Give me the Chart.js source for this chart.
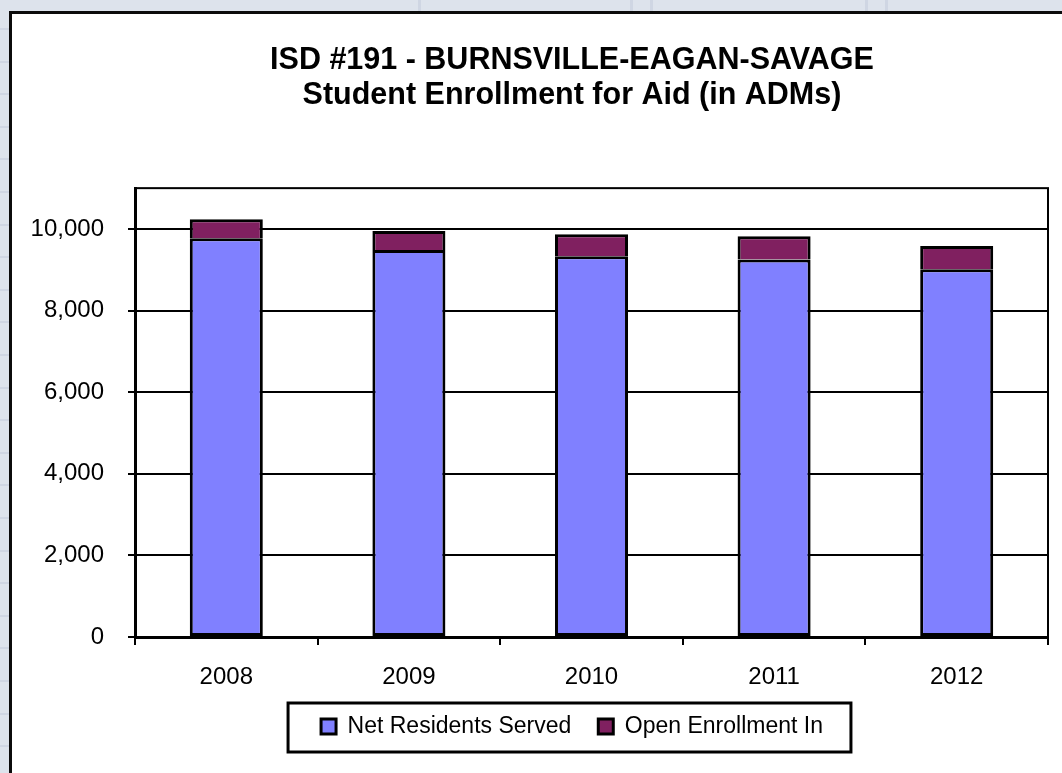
<!DOCTYPE html>
<html>
<head>
<meta charset="utf-8">
<script src="https://cdn.jsdelivr.net/npm/chart.js@4/dist/chart.umd.min.js"></script>
<style>
  html, body { margin: 0; padding: 0; width: 1062px; height: 773px; overflow: hidden; }
  body {
    background-color: #dde3ec;
    background-image:
      repeating-linear-gradient(to bottom, transparent 0px, transparent 28px, #cfd6e3 28px, #cfd6e3 30px, transparent 30px, transparent 32.6px);
    position: relative;
  }
  .vl { position: absolute; top: 0; width: 3px; height: 12px; background: #cfd6e3; }
  #box {
    position: absolute; left: 9px; top: 11px;
    width: 1200px; height: 820px;
    background: #ffffff;
    border-left: 3px solid #0b0b0b; border-top: 3px solid #0b0b0b;
  }
  #c { position: absolute; left: 0; top: 0; }
</style>
</head>
<body>
<div class="vl" style="left:418px"></div>
<div class="vl" style="left:630px"></div>
<div class="vl" style="left:650px"></div>
<div class="vl" style="left:865px"></div>
<div class="vl" style="left:885px"></div>
<div id="box"><canvas id="c" width="1120" height="759"></canvas></div>
<script>
// ---- data ----
const titleLines = ['ISD #191 - BURNSVILLE-EAGAN-SAVAGE', 'Student Enrollment for Aid (in ADMs)'];
const years = ['2008', '2009', '2010', '2011', '2012'];
const netResidentsServed = [9770, 9485, 9330, 9250, 9010];
const openEnrollmentIn = [470, 465, 540, 570, 570];
const seriesNames = ['Net Residents Served', 'Open Enrollment In'];
const yTicks = [0, 2000, 4000, 6000, 8000, 10000];
const yMin = 0, yMax = 11000;

const FONT = '"Liberation Sans", Arial, sans-serif';

const framePlugin = {
  id: 'frame',
  beforeDatasetsDraw(chart) {
    const a = chart.chartArea, ctx = chart.ctx;
    ctx.save();
    ctx.strokeStyle = '#000';
    ctx.lineWidth = 2;
    ctx.strokeRect(a.left, a.top, a.right - a.left, a.bottom - a.top);
    ctx.restore();
  }
};

const legendBoxPlugin = {
  id: 'legendBox',
  afterDraw(chart) {
    const hb = chart.legend && chart.legend.legendHitBoxes;
    if (!hb || !hb.length) return;
    const first = hb[0], last = hb[hb.length - 1];
    const cy = first.top + first.height / 2;
    const x1 = first.left - 33, x2 = last.left + last.width + 28;
    const ctx = chart.ctx;
    ctx.save();
    ctx.strokeStyle = '#000';
    ctx.lineWidth = 3;
    ctx.strokeRect(x1, cy - 23.5, x2 - x1, 49);
    ctx.restore();
  }
};

new Chart(document.getElementById('c'), {
  type: 'bar',
  data: {
    labels: years,
    datasets: [
      {
        label: seriesNames[0],
        data: netResidentsServed,
        backgroundColor: '#8080ff',
        borderColor: '#000',
        borderWidth: 3,
        borderSkipped: false,
        barPercentage: 0.4,
        categoryPercentage: 1.0,
        yAxisID: 'y'
      },
      {
        label: seriesNames[1],
        data: openEnrollmentIn,
        backgroundColor: '#802060',
        borderColor: '#000',
        borderWidth: 3,
        borderSkipped: 'start',
        barPercentage: 0.4,
        categoryPercentage: 1.0,
        yAxisID: 'y'
      }
    ]
  },
  options: {
    responsive: false,
    animation: false,
    devicePixelRatio: 1,
    layout: { padding: { left: 0, right: 0, top: 0, bottom: 25 } },
    plugins: {
      title: {
        display: true,
        text: titleLines,
        color: '#000',
        font: { family: FONT, size: 30.5, weight: 'bold', lineHeight: 1.15 },
        padding: { top: 29, bottom: 75 }
      },
      legend: {
        display: true,
        position: 'bottom',
        labels: {
          color: '#000',
          font: { family: FONT, size: 23 },
          boxWidth: 15,
          boxHeight: 15,
          padding: 27
        }
      },
      tooltip: { enabled: false }
    },
    scales: {
      x: {
        stacked: true,
        afterFit(s) { s.height = 51; },
        grid: {
          display: true,
          drawOnChartArea: false,
          drawTicks: true,
          tickLength: 8,
          color: '#000',
          lineWidth: 2,
          offset: true
        },
        border: { display: true, color: '#000', width: 3 },
        ticks: { color: '#000', font: { family: FONT, size: 24 }, padding: 18 }
      },
      y: {
        stacked: true,
        min: yMin,
        max: yMax,
        afterFit(s) { s.width = 123; },
        afterBuildTicks(s) { s.ticks = yTicks.map(v => ({ value: v })); },
        grid: {
          color: '#000',
          lineWidth: 2,
          drawTicks: true,
          tickLength: 7
        },
        border: { display: true, color: '#000', width: 3 },
        ticks: {
          color: '#000',
          font: { family: FONT, size: 24 },
          padding: 24,
          callback: (v) => Number(v).toLocaleString('en-US')
        }
      },
      yRight: {
        type: 'linear',
        position: 'right',
        display: true,
        afterFit(s) { s.width = 84; },
        grid: { display: false, drawTicks: false },
        border: { display: false },
        ticks: { display: false }
      }
    }
  },
  plugins: [framePlugin, legendBoxPlugin]
});
</script>
</body>
</html>
